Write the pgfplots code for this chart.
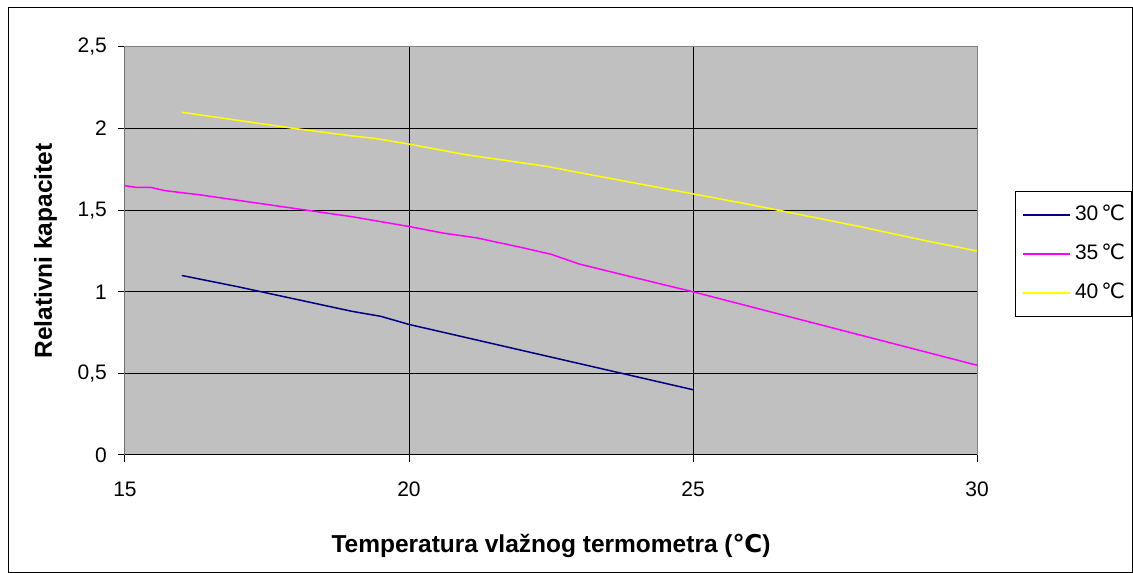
\documentclass[border=0pt]{standalone}
\usepackage{fontspec}
\setmainfont{Liberation Sans}
\newfontfamily\symfont{DejaVu Sans}
\usepackage{pgfplots}
\pgfplotsset{compat=1.18}
\definecolor{plotgray}{RGB}{192,192,192}
\definecolor{framegray}{RGB}{128,128,128}
\definecolor{navyline}{RGB}{0,0,128}
\definecolor{magentaline}{RGB}{255,0,255}
\definecolor{yellowline}{RGB}{255,255,0}
\newcommand{\degC}{{\symfont\char"2103}}

\begin{document}
\begin{tikzpicture}[x=1pt,y=1pt]
\useasboundingbox (0,0) rectangle (1133,573);
\draw[black,line width=1pt] (8.5,0.5) rectangle (1132.5,565.5);
\begin{axis}[%
at={(125pt,118pt)},
anchor=south west,
width=852pt,
height=408pt,
scale only axis,
xmin=15,
xmax=30,
ymin=0,
ymax=2.5,
xtick={15,20,25,30},
ytick={0,0.5,1,1.5,2,2.5},
axis background/.style={fill=plotgray},
axis line style={draw=framegray,line width=1pt},
grid=major,
major grid style={black,line width=1pt},
tick align=outside,
major tick length=7pt,
tick style={black,line width=1pt},
xtick pos=bottom,
ytick pos=left,
/pgf/number format/assume math mode=true,
/pgf/number format/use comma,
ticklabel style={font=\fontsize{21}{25}\selectfont},
xticklabel style={anchor=north,inner sep=0pt,yshift=-20pt},
yticklabel style={anchor=east,inner sep=0pt,xshift=-11pt},
xlabel={Temperatura vlažnog termometra (\degC)},
ylabel={Relativni kapacitet},
label style={font=\bfseries\fontsize{24.5}{28}\selectfont},
xlabel style={at={(axis description cs:0.5,-0.240)},anchor=base},
ylabel style={at={(axis description cs:-0.0857,0.5)},anchor=base},
legend style={at={(axis description cs:1.0446,0.647)},anchor=north west,draw=black,line width=1pt,fill=white,
  font=\fontsize{21}{25}\selectfont,inner xsep=7pt,inner ysep=14pt,row sep=20pt,
  nodes={inner sep=0pt,text height=15pt,text depth=4pt}},
legend cell align=left,
legend image code/.code={\draw[#1] (0pt,0pt) -- (47pt,0pt);\path (51pt,0pt);}
]
\addplot [color=navyline,line width=1.5pt]
  table[row sep=crcr]{16	1.10\\
17	1.03\\
18	0.955\\
19	0.88\\
19.5	0.85\\
20	0.80\\
21	0.72\\
22	0.64\\
23	0.56\\
24	0.48\\
25	0.40\\
};
\addlegendentry{30\kern3pt\degC}

\addplot [color=magentaline,line width=1.5pt]
  table[row sep=crcr]{15	1.65\\
15.2	1.64\\
15.45	1.64\\
15.7	1.62\\
16.3	1.595\\
17	1.56\\
18	1.51\\
19	1.46\\
20	1.40\\
20.6	1.36\\
21.2	1.33\\
22	1.27\\
22.5	1.23\\
23	1.17\\
23.7	1.11\\
25	1.00\\
26	0.91\\
27	0.82\\
28	0.73\\
29	0.64\\
30	0.55\\
};
\addlegendentry{35\kern3pt\degC}

\addplot [color=yellowline,line width=1.5pt]
  table[row sep=crcr]{16	2.10\\
17	2.05\\
18	2.00\\
19	1.955\\
19.4	1.94\\
20	1.905\\
21	1.84\\
22	1.79\\
22.4	1.77\\
23	1.73\\
24	1.665\\
25	1.60\\
26	1.535\\
27	1.465\\
28	1.395\\
29	1.32\\
30	1.25\\
};
\addlegendentry{40\kern3pt\degC}

\draw[black,line width=1pt] (rel axis cs:0,1) -- (rel axis cs:0,0) -- (rel axis cs:1,0);
\end{axis}
\end{tikzpicture}
\end{document}
